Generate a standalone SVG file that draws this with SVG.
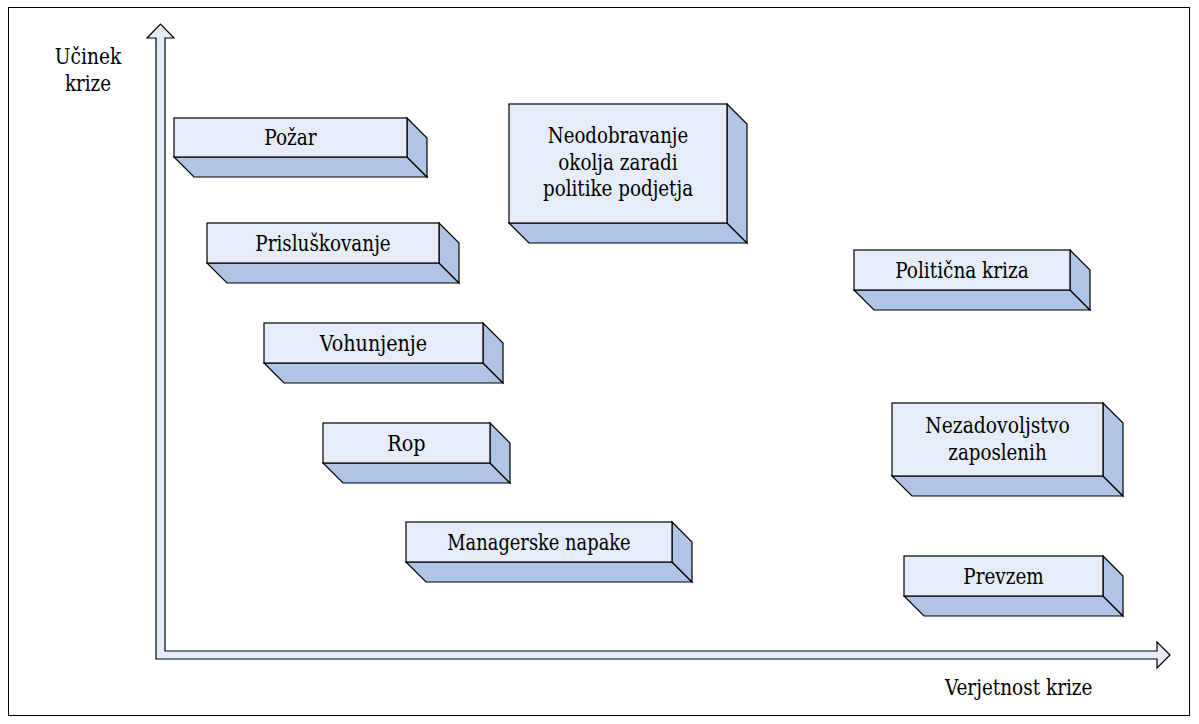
<svg xmlns="http://www.w3.org/2000/svg" width="1199" height="724" viewBox="0 0 1199 724">
  <style>
    .frame { fill: #ffffff; stroke: #000000; stroke-width: 1; }
    .axis { fill: #E6EDF8; stroke: #000000; stroke-width: 1.2; stroke-linejoin: miter; }
    .front { fill: #E6EDF8; stroke: #000000; stroke-width: 1.2; }
    .side { fill: #B0C5E5; stroke: #000000; stroke-width: 1.2; stroke-linejoin: miter; }
    text { font-family: "DejaVu Serif", "Liberation Serif", serif; font-stretch: condensed; font-size: 22px; fill: #000000; }
    .c { text-anchor: middle; }
  </style>

  <rect class="frame" x="8.5" y="7.5" width="1181" height="708"/>

  <!-- axes -->
  <g id="axes">
    <path class="axis" d="M156,659 L156,38 L147,38 L160.5,24 L174,38 L165,38 L165,651 L1157,651 L1157,642 L1170,655 L1157,668 L1157,659 Z"/>
    <text class="c" x="88" y="64" textLength="66.4" lengthAdjust="spacingAndGlyphs">Učinek</text>
    <text class="c" x="88" y="91" textLength="46" lengthAdjust="spacingAndGlyphs">krize</text>
    <text x="945" y="695" textLength="147.5" lengthAdjust="spacingAndGlyphs">Verjetnost krize</text>
  </g>

  <!-- 3D boxes: front face, bottom face, right face; depth 20 -->
  <g id="pozar">
    <polygon class="side" points="174,157 194,177 427,177 407,157"/>
    <polygon class="side" points="407,118 427,138 427,177 407,157"/>
    <rect class="front" x="174" y="118" width="233" height="39"/>
    <text class="c" x="290.5" y="145" textLength="52.4" lengthAdjust="spacingAndGlyphs">Požar</text>
  </g>

  <g id="neodobravanje">
    <polygon class="side" points="509,223 529,243 747,243 727,223"/>
    <polygon class="side" points="727,104 747,124 747,243 727,223"/>
    <rect class="front" x="509" y="104" width="218" height="119"/>
    <text class="c" x="618" y="143" textLength="140.5" lengthAdjust="spacingAndGlyphs">Neodobravanje</text>
    <text class="c" x="618" y="170" textLength="119.4" lengthAdjust="spacingAndGlyphs">okolja zaradi</text>
    <text class="c" x="618" y="196" textLength="150.1" lengthAdjust="spacingAndGlyphs">politike podjetja</text>
  </g>

  <g id="prisluskovanje">
    <polygon class="side" points="207,263 227,283 459,283 439,263"/>
    <polygon class="side" points="439,223 459,243 459,283 439,263"/>
    <rect class="front" x="207" y="223" width="232" height="40"/>
    <text class="c" x="323" y="251" textLength="135.4" lengthAdjust="spacingAndGlyphs">Prisluškovanje</text>
  </g>

  <g id="politicna-kriza">
    <polygon class="side" points="854,290 874,310 1090,310 1070,290"/>
    <polygon class="side" points="1070,250 1090,270 1090,310 1070,290"/>
    <rect class="front" x="854" y="250" width="216" height="40"/>
    <text class="c" x="962" y="278" textLength="133.5" lengthAdjust="spacingAndGlyphs">Politična kriza</text>
  </g>

  <g id="vohunjenje">
    <polygon class="side" points="264,363 284,383 503,383 483,363"/>
    <polygon class="side" points="483,323 503,343 503,383 483,363"/>
    <rect class="front" x="264" y="323" width="219" height="40"/>
    <text class="c" x="373.5" y="351" textLength="107.3" lengthAdjust="spacingAndGlyphs">Vohunjenje</text>
  </g>

  <g id="rop">
    <polygon class="side" points="323,463 343,483 510,483 490,463"/>
    <polygon class="side" points="490,423 510,443 510,483 490,463"/>
    <rect class="front" x="323" y="423" width="167" height="40"/>
    <text class="c" x="406.5" y="451" textLength="38.3" lengthAdjust="spacingAndGlyphs">Rop</text>
  </g>

  <g id="nezadovoljstvo">
    <polygon class="side" points="892,476 912,496 1123,496 1103,476"/>
    <polygon class="side" points="1103,403 1123,423 1123,496 1103,476"/>
    <rect class="front" x="892" y="403" width="211" height="73"/>
    <text class="c" x="997.5" y="433" textLength="144.4" lengthAdjust="spacingAndGlyphs">Nezadovoljstvo</text>
    <text class="c" x="997.5" y="460" textLength="98.4" lengthAdjust="spacingAndGlyphs">zaposlenih</text>
  </g>

  <g id="managerske-napake">
    <polygon class="side" points="406,562 426,582 692,582 672,562"/>
    <polygon class="side" points="672,522 692,542 692,582 672,562"/>
    <rect class="front" x="406" y="522" width="266" height="40"/>
    <text class="c" x="539" y="550" textLength="183.3" lengthAdjust="spacingAndGlyphs">Managerske napake</text>
  </g>

  <g id="prevzem">
    <polygon class="side" points="904,596 924,616 1123,616 1103,596"/>
    <polygon class="side" points="1103,556 1123,576 1123,616 1103,596"/>
    <rect class="front" x="904" y="556" width="199" height="40"/>
    <text class="c" x="1003.5" y="584" textLength="80.5" lengthAdjust="spacingAndGlyphs">Prevzem</text>
  </g>
</svg>
